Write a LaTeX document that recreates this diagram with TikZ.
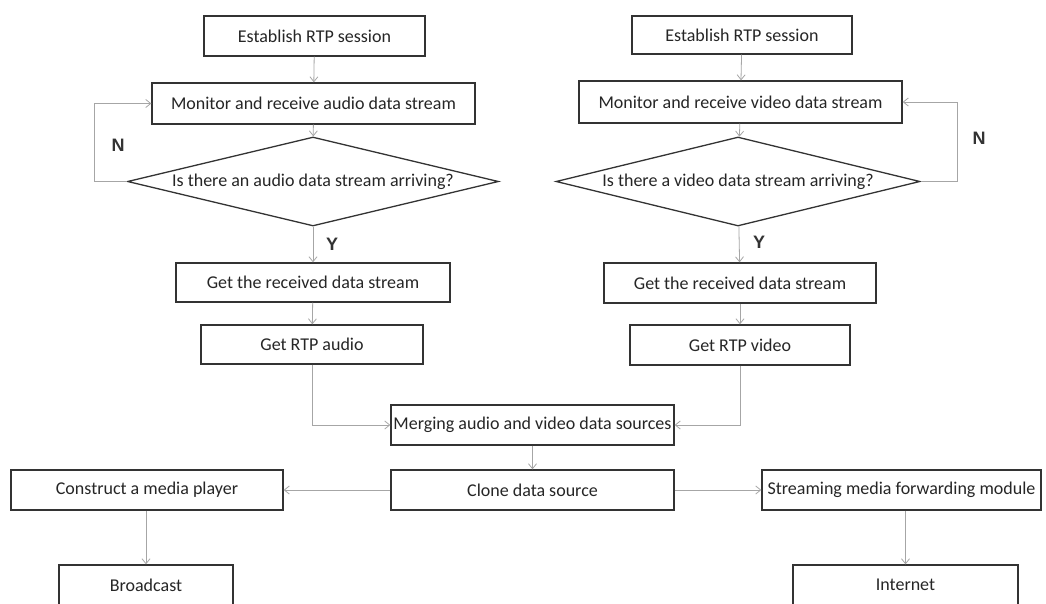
\documentclass[tikz,border=0pt]{standalone}
\usepackage{fontspec}
\setmainfont{Carlito}
\newfontfamily\yn{Liberation Sans}
\usetikzlibrary{shapes.geometric,arrows.meta}
\begin{document}
\begin{tikzpicture}[x=1pt,y=-1pt,
  box/.style={draw=black!80,line width=1.3pt,rectangle,inner sep=0pt,text=black!85,font=\fontsize{18}{20}\selectfont},
  dia/.style={draw=black!80,line width=1.3pt,diamond,inner sep=0pt},
  arr/.style={draw=black!35,line width=0.8pt,-{Straight Barb[length=5pt,width=8pt]}},
  yn/.style={font=\yn\bfseries\fontsize{18}{18}\selectfont,text=black!80}]
\useasboundingbox[fill=white] (0,0) rectangle (1046,603);
% left column
\node[box,minimum width=221pt,minimum height=40pt] (e1) at (314.5,36) {Establish RTP session};
\node[box,minimum width=323pt,minimum height=41pt] (m1) at (313.5,103.5) {Monitor and receive audio data stream};
\node[dia,minimum width=371pt,minimum height=89pt] (d1) at (313,181.5) {};
\node[text=black!85,font=\fontsize{18}{20}\selectfont] (t1) at (313,182) {Is there an audio data stream arriving?};
\node[box,minimum width=274pt,minimum height=39pt] (g1) at (313,282.5) {Get the received data stream};
\node[box,minimum width=222pt,minimum height=39pt] (r1) at (312,344.5) {Get RTP audio};
% right column
\node[box,minimum width=220pt,minimum height=38pt] (e2) at (742,35) {Establish RTP session};
\node[box,minimum width=323pt,minimum height=42pt] (m2) at (740.5,102) {Monitor and receive video data stream};
\node[dia,minimum width=364pt,minimum height=89pt] (d2) at (738,181.5) {};
\node[text=black!85,font=\fontsize{18}{20}\selectfont] (t2) at (738,182) {Is there a video data stream arriving?};
\node[box,minimum width=272pt,minimum height=40pt] (g2) at (740,283) {Get the received data stream};
\node[box,minimum width=220pt,minimum height=40pt] (r2) at (740,345) {Get RTP video};
% bottom
\node[box,minimum width=283pt,minimum height=40pt] (mg) at (532.5,425) {Merging audio and video data sources};
\node[box,minimum width=283pt,minimum height=40pt] (cl) at (532.5,490) {Clone data source};
\node[box,minimum width=272pt,minimum height=40pt] (pl) at (147,490) {Construct a media player};
\node[box,minimum width=279pt,minimum height=40pt] (st) at (901.5,490) {Streaming media forwarding module};
\node[box,minimum width=174pt,minimum height=40pt] (bc) at (146,585) {Broadcast};
\node[box,minimum width=225pt,minimum height=40pt] (in) at (905.5,585) {Internet};
% labels
\node[yn] (n1) at (118,145) {N};
\node[yn] (n2) at (979,138) {N};
\node[yn] (y1) at (332,244) {Y};
\node[yn] (y2) at (759,242) {Y};
% connectors
\draw[arr] (e1) -- (m1);
\draw[arr] (m1) -- (d1);
\draw[arr] (d1) -- (g1);
\draw[arr] (g1) -- (r1);
\draw[arr] (d1.west) -- ++(-32,0) |- (m1.west);
\draw[arr] (e2) -- (m2);
\draw[arr] (m2) -- (d2);
\draw[arr] (d2) -- (g2);
\draw[arr] (g2) -- (r2);
\draw[arr] (d2.east) -- ++(37,0) |- (m2.east);
\draw[arr] (r1.south) |- (mg.west);
\draw[arr] (r2.south) |- (mg.east);
\draw[arr] (mg) -- (cl);
\draw[arr] (cl) -- (pl);
\draw[arr] (cl) -- (st);
\draw[arr] (pl.south -| bc.north) -- (bc.north);
\draw[arr] (st.south -| in.north) -- (in.north);
\end{tikzpicture}
\end{document}
